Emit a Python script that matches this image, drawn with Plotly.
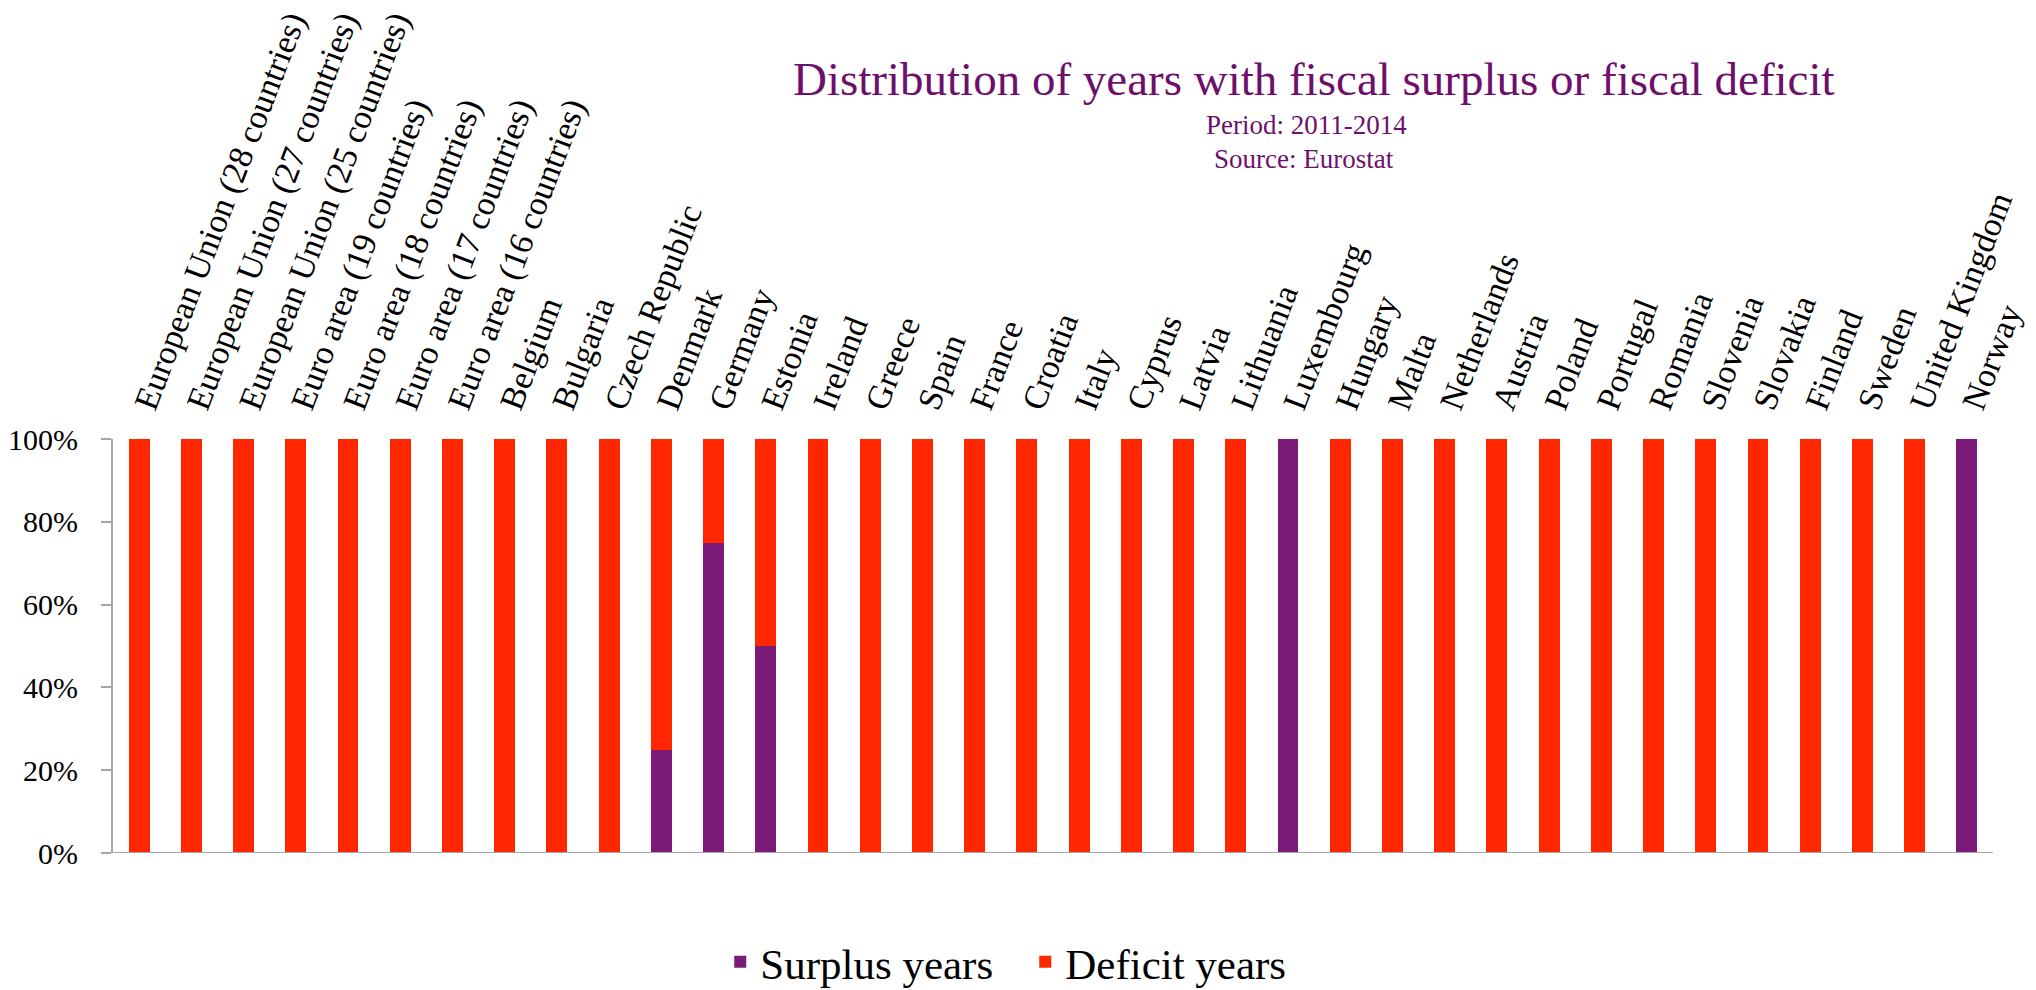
import plotly.graph_objects as go

categories = [
    "European Union (28 countries)", "European Union (27 countries)", "European Union (25 countries)",
    "Euro area (19 countries)", "Euro area (18 countries)", "Euro area (17 countries)", "Euro area (16 countries)",
    "Belgium", "Bulgaria", "Czech Republic", "Denmark", "Germany", "Estonia", "Ireland", "Greece", "Spain",
    "France", "Croatia", "Italy", "Cyprus", "Latvia", "Lithuania", "Luxembourg", "Hungary", "Malta",
    "Netherlands", "Austria", "Poland", "Portugal", "Romania", "Slovenia", "Slovakia", "Finland", "Sweden",
    "United Kingdom", "Norway",
]
surplus_years = [0, 0, 0, 0, 0, 0, 0, 0, 0, 0, 0.25, 0.75, 0.5, 0, 0, 0, 0, 0, 0, 0, 0, 0, 1.0, 0, 0,
                 0, 0, 0, 0, 0, 0, 0, 0, 0, 0, 1.0]
deficit_years = [1, 1, 1, 1, 1, 1, 1, 1, 1, 1, 0.75, 0.25, 0.5, 1, 1, 1, 1, 1, 1, 1, 1, 1, 0, 1, 1,
                 1, 1, 1, 1, 1, 1, 1, 1, 1, 1, 0]
y_ticks = [0, 0.2, 0.4, 0.6, 0.8, 1.0]
y_tick_labels = ["0%", "20%", "40%", "60%", "80%", "100%"]

PURPLE = "#7B1A78"
RED = "#FF2600"
TITLE_PURPLE = "#6E0F6C"
AXIS_GRAY = "#A6A6A6"
FONT = "Liberation Serif"

fig = go.Figure()
fig.add_trace(go.Bar(x=categories, y=surplus_years, name="Surplus years", marker_color=PURPLE))
fig.add_trace(go.Bar(x=categories, y=deficit_years, name="Deficit years", marker_color=RED))

fig.update_layout(
    template="none",
    width=2028, height=982,
    barmode="stack", bargap=0.6,
    margin=dict(l=105, r=43, t=431, b=137, autoexpand=False),
    paper_bgcolor="white", plot_bgcolor="white",
    font=dict(family=FONT, color="black"),
    showlegend=True,
    legend=dict(
        orientation="h", traceorder="normal",
        x=0.323, xanchor="left", y=-0.263, yanchor="middle",
        font=dict(size=43, family=FONT, color="black"),
        entrywidth=260, bgcolor="rgba(0,0,0,0)",
    ),
)

fig.update_xaxes(
    side="top", type="category", tickangle=-69, tickfont=dict(size=34, family=FONT),
    showline=False, showgrid=False, zeroline=False, ticks="", automargin=False,
    ticklabelstandoff=8,
)
fig.update_yaxes(
    range=[0, 1], tickvals=y_ticks, ticktext=y_tick_labels,
    tickfont=dict(size=30, family=FONT),
    showline=True, linecolor=AXIS_GRAY, linewidth=2,
    ticks="outside", ticklen=10, tickcolor=AXIS_GRAY, tickwidth=2,
    showgrid=False, zeroline=False, automargin=False, ticklabelstandoff=17,
)

# baseline of the category axis (drawn at the bottom while labels sit on top)
fig.add_shape(type="line", xref="paper", x0=0, x1=1, yref="y", y0=0, y1=0,
              line=dict(color=AXIS_GRAY, width=2), layer="above")

fig.add_annotation(text="Distribution of years with fiscal surplus or fiscal deficit",
                   xref="paper", yref="paper", x=0.639, y=1.870, xanchor="center", yanchor="middle",
                   showarrow=False, font=dict(size=47, family=FONT, color=TITLE_PURPLE))
fig.add_annotation(text="Period: 2011-2014",
                   xref="paper", yref="paper", x=0.6346, y=1.758, xanchor="center", yanchor="middle",
                   showarrow=False, font=dict(size=27, family=FONT, color=TITLE_PURPLE))
fig.add_annotation(text="Source: Eurostat",
                   xref="paper", yref="paper", x=0.6335, y=1.676, xanchor="center", yanchor="middle",
                   showarrow=False, font=dict(size=27, family=FONT, color=TITLE_PURPLE))

fig.write_html("out.html")
